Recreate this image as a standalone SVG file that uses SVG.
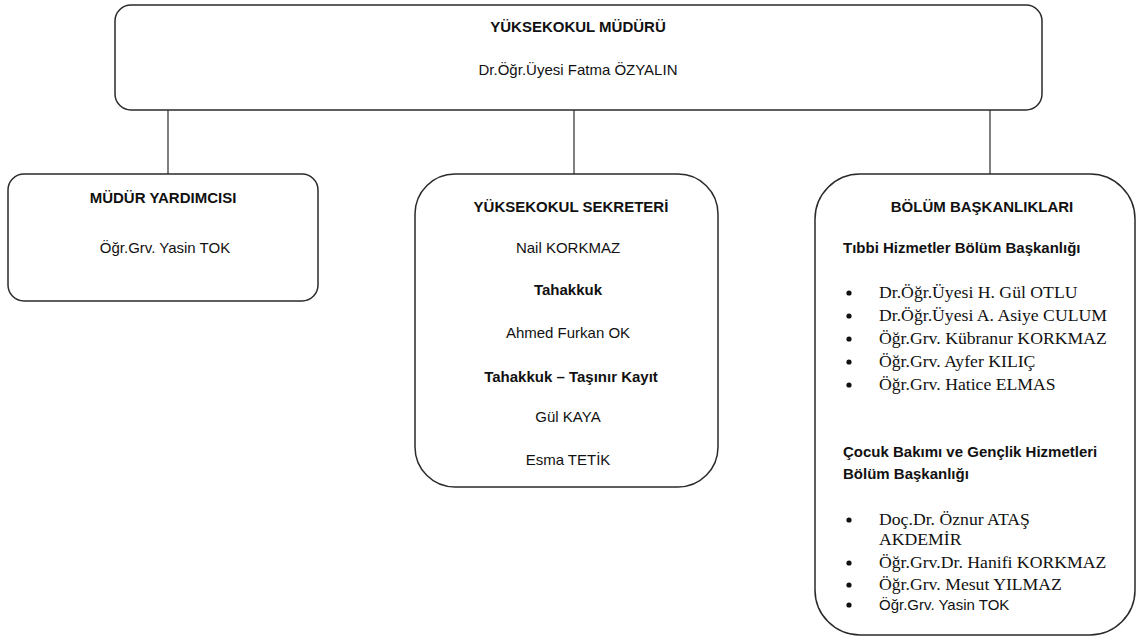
<svg xmlns="http://www.w3.org/2000/svg" width="1138" height="637" viewBox="0 0 1138 637">
<style>
.box{fill:#fff;stroke:#2a2a2a;stroke-width:1.5}
.ln{stroke:#2a2a2a;stroke-width:1.2;fill:none}
.s{font-family:"Liberation Sans",Arial,sans-serif;font-size:15px;fill:#111}
.b{font-weight:bold}
.c{text-anchor:middle}
.t{font-family:"Liberation Serif","Times New Roman",serif;font-size:17.7px;fill:#111}
.dot{fill:#111}
</style>
<rect width="1138" height="637" fill="#fff"/>
<g id="connectors">
<line class="ln" x1="168" y1="110" x2="168" y2="174"/>
<line class="ln" x1="574" y1="110" x2="574" y2="174"/>
<line class="ln" x1="990" y1="110" x2="990" y2="174"/>
</g>
<g id="mudur">
<rect class="box" x="115" y="5" width="927" height="105" rx="16"/>
<text class="s b c" x="578" y="32">YÜKSEKOKUL MÜDÜRÜ</text>
<text class="s c" x="578" y="75">Dr.Öğr.Üyesi Fatma ÖZYALIN</text>
</g>
<g id="yardimci">
<rect class="box" x="8" y="174" width="310" height="127" rx="16"/>
<text class="s b c" x="163" y="203">MÜDÜR YARDIMCISI</text>
<text class="s c" x="165" y="253">Öğr.Grv. Yasin TOK</text>
</g>
<g id="sekreter">
<rect class="box" x="415" y="174" width="303" height="313" rx="40"/>
<text class="s b c" x="571" y="212">YÜKSEKOKUL SEKRETERİ</text>
<text class="s c" x="568" y="253">Nail KORKMAZ</text>
<text class="s b c" x="568" y="295">Tahakkuk</text>
<text class="s c" x="568" y="338">Ahmed Furkan OK</text>
<text class="s b c" x="571" y="382">Tahakkuk – Taşınır Kayıt</text>
<text class="s c" x="568" y="422">Gül KAYA</text>
<text class="s c" x="568" y="465">Esma TETİK</text>
</g>
<g id="bolum">
<rect class="box" x="815" y="174" width="320" height="461" rx="45"/>
<text class="s b c" x="982" y="212">BÖLÜM BAŞKANLIKLARI</text>
<text class="s b" x="843" y="253">Tıbbi Hizmetler Bölüm Başkanlığı</text>
<circle class="dot" cx="849" cy="293" r="2.6"/>
<text class="t" x="879" y="298">Dr.Öğr.Üyesi H. Gül OTLU</text>
<circle class="dot" cx="849" cy="316" r="2.6"/>
<text class="t" x="879" y="321">Dr.Öğr.Üyesi A. Asiye CULUM</text>
<circle class="dot" cx="849" cy="339" r="2.6"/>
<text class="t" x="879" y="344">Öğr.Grv. Kübranur KORKMAZ</text>
<circle class="dot" cx="849" cy="362" r="2.6"/>
<text class="t" x="879" y="367">Öğr.Grv. Ayfer KILIÇ</text>
<circle class="dot" cx="849" cy="385" r="2.6"/>
<text class="t" x="879" y="390">Öğr.Grv. Hatice ELMAS</text>
<text class="s b" x="843" y="457">Çocuk Bakımı ve Gençlik Hizmetleri</text>
<text class="s b" x="843" y="479">Bölüm Başkanlığı</text>
<circle class="dot" cx="849" cy="520" r="2.6"/>
<text class="t" x="879" y="525">Doç.Dr. Öznur ATAŞ</text>
<text class="t" x="879" y="545">AKDEMİR</text>
<circle class="dot" cx="849" cy="563" r="2.6"/>
<text class="t" x="879" y="568">Öğr.Grv.Dr. Hanifi KORKMAZ</text>
<circle class="dot" cx="849" cy="585" r="2.6"/>
<text class="t" x="879" y="590">Öğr.Grv. Mesut YILMAZ</text>
<circle class="dot" cx="849" cy="605" r="2.6"/>
<text class="s" x="879" y="610">Öğr.Grv. Yasin TOK</text>
</g>
</svg>
